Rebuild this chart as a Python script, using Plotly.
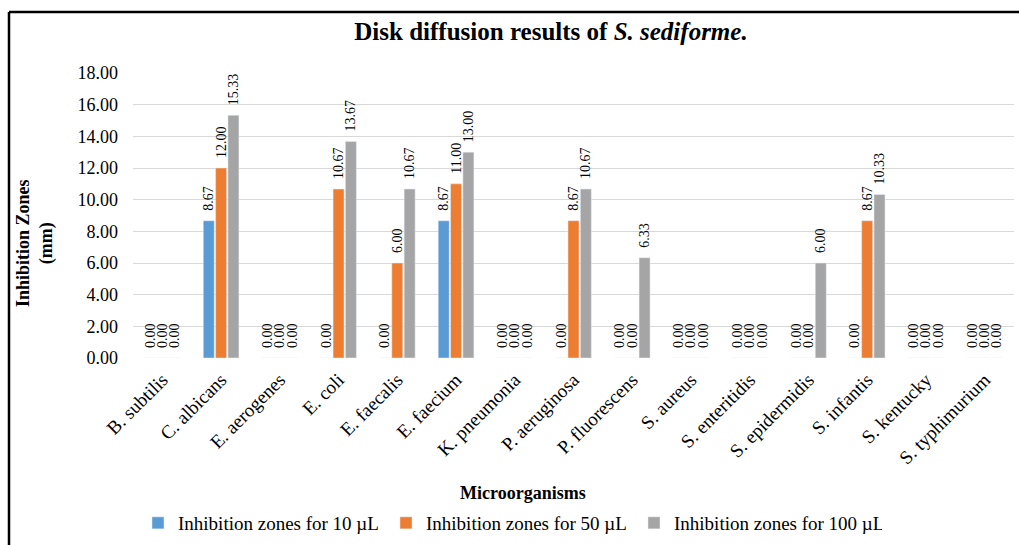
import plotly.graph_objects as go

organisms = ["B. subtilis", "C. albicans", "E. aerogenes", "E. coli", "E. faecalis",
             "E. faecium", "K. pneumonia", "P. aeruginosa", "P. fluorescens", "S. aureus",
             "S. enteritidis", "S. epidermidis", "S. infantis", "S. kentucky", "S. typhimurium"]
zones_10ul = [0.00, 8.67, 0.00, 0.00, 0.00, 8.67, 0.00, 0.00, 0.00, 0.00, 0.00, 0.00, 0.00, 0.00, 0.00]
zones_50ul = [0.00, 12.00, 0.00, 10.67, 6.00, 11.00, 0.00, 8.67, 0.00, 0.00, 0.00, 0.00, 8.67, 0.00, 0.00]
zones_100ul = [0.00, 15.33, 0.00, 13.67, 10.67, 13.00, 0.00, 10.67, 6.33, 0.00, 0.00, 6.00, 10.33, 0.00, 0.00]
series_names = ["Inhibition zones for 10 µL", "Inhibition zones for 50 µL", "Inhibition zones for 100 µL"]
series_colors = ["#5B9BD5", "#ED7D31", "#A5A5A5"]
y_ticks = [0, 2, 4, 6, 8, 10, 12, 14, 16, 18]

W, H = 1019, 545
ML, MR, MT, MB = 133, 5, 73, 187
PW, PH = W - ML - MR, H - MT - MB

def px_x(x):
    return (x - ML) / PW

def px_y(y):
    return (H - MB - y) / PH

FONT = "Liberation Serif, Times New Roman, serif"
LABEL_PAD = "\u00a0\u00a0"  # extra room between bar top and its rotated value label

fig = go.Figure()
for name, vals, col in zip(series_names, [zones_10ul, zones_50ul, zones_100ul], series_colors):
    fig.add_trace(go.Bar(
        x=organisms, y=vals, name=name, marker_color=col,
        text=[f"{LABEL_PAD}{v:.2f}" for v in vals], textposition="outside", textangle=-90,
        constraintext="none",
        textfont=dict(family=FONT, size=14, color="#000000"), cliponaxis=False,
    ))

fig.update_layout(
    width=W, height=H,
    margin=dict(l=ML, r=MR, t=MT, b=MB),
    paper_bgcolor="white", plot_bgcolor="white",
    barmode="group", bargap=0.37, bargroupgap=0.11,
    font=dict(family=FONT, color="#000000"),
    title=dict(
        text="<b>Disk diffusion results of <i>S. sediforme.</i></b>",
        xref="container", x=551 / W, xanchor="center",
        yref="container", y=1 - 31 / H, yanchor="middle",
        font=dict(family=FONT, size=25, color="#000000"),
    ),
    xaxis=dict(tickangle=-45, tickfont=dict(family=FONT, size=19), showline=False,
               ticks="", ticklabelstandoff=6),
    yaxis=dict(range=[0, 18], tickvals=y_ticks, tickformat=".2f",
               tickfont=dict(family=FONT, size=18), showgrid=True,
               gridcolor="#D9D9D9", gridwidth=1, zeroline=False, showline=False,
               ticks="", ticklabelstandoff=14),
    showlegend=True,
    legend=dict(orientation="h", xref="container", x=(180 - 42) / W, xanchor="left",
                yref="container", y=1 - 523 / H, yanchor="middle",
                font=dict(family=FONT, size=19), itemwidth=30, entrywidth=203,
                traceorder="normal"),
    annotations=[
        dict(text="<b>Microorganisms</b>", xref="paper", yref="paper",
             x=px_x(523), y=px_y(493), xanchor="center", yanchor="middle",
             showarrow=False, font=dict(family=FONT, size=18)),
        dict(text="<b>Inhibition Zones<br>(mm)</b>", xref="paper", yref="paper",
             x=px_x(35), y=px_y(243), xanchor="center", yanchor="middle",
             showarrow=False, textangle=-90, font=dict(family=FONT, size=18)),
    ],
    shapes=[
        dict(type="line", xref="paper", yref="paper", x0=px_x(9), x1=px_x(1030),
             y0=px_y(12), y1=px_y(12), line=dict(color="black", width=2.5)),
        dict(type="line", xref="paper", yref="paper", x0=px_x(9), x1=px_x(9),
             y0=px_y(12), y1=px_y(560), line=dict(color="black", width=2.5)),
    ],
)

fig.write_html("out.html")
